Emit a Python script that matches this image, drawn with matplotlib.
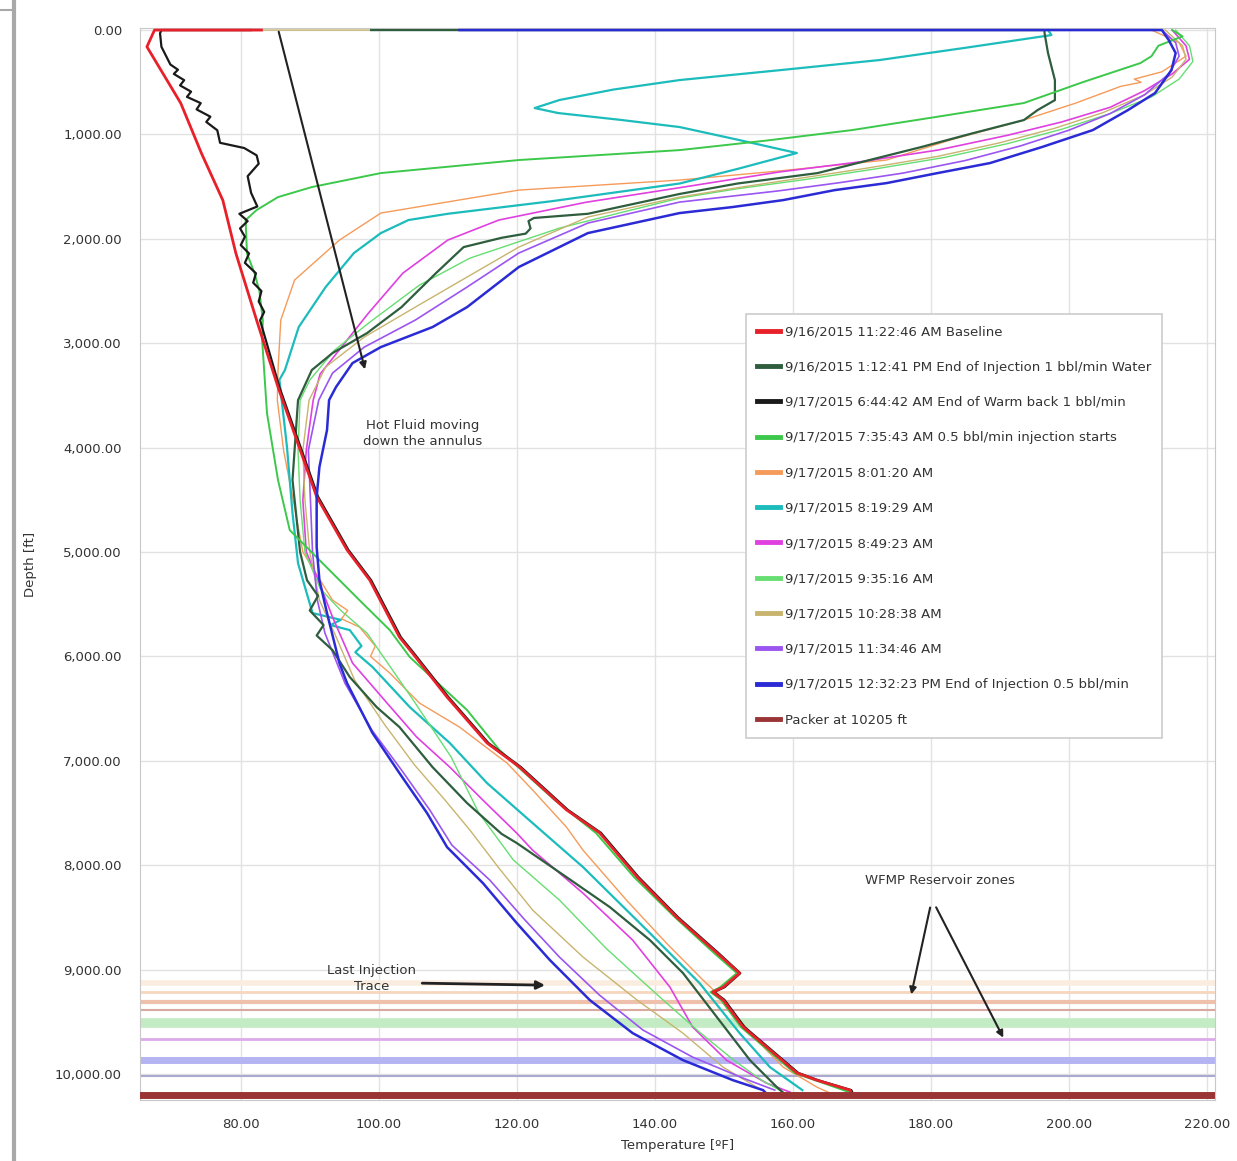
import matplotlib
matplotlib.use("Agg")
import matplotlib.pyplot as plt
from matplotlib.lines import Line2D
from matplotlib.ticker import FuncFormatter, MultipleLocator

plt.rcParams['font.family'] = ['DejaVu Sans']

# ---- data: temperature [F] vs depth [ft] for each trace ----
base_t = [83.0, 67.5, 66.4, 71.3, 74.3, 77.4, 79.3, 82.3, 85.4, 91.0, 95.4, 98.7, 103.0, 104.9, 109.9,
          115.7, 120.4, 127.2, 132.0, 137.4, 143.2, 149.0, 152.3, 149.9, 148.4, 149.9, 152.8, 156.7,
          160.6, 163.5, 168.3, 168.6]
base_d = [0, 0, 160, 700, 1180, 1630, 2140, 2780, 3420, 4470, 4980, 5270, 5815, 5970, 6390,
          6830, 7060, 7470, 7690, 8110, 8500, 8840, 9035, 9170, 9215, 9290, 9550, 9770,
          9990, 10060, 10155, 10200]

inj1_t = [98.9, 196.5, 196.5, 197.0, 198.0, 198.0, 195.5, 193.5, 186.0, 178.6, 163.6, 152.0, 143.6,
          130.3, 122.5, 121.7, 122.0, 121.3, 117.8, 112.3, 108.3, 103.3, 98.3, 93.3, 90.3, 88.3,
          87.5, 88.6, 89.6, 91.2, 90.0, 92.0, 91.0, 93.3, 95.8, 99.7, 103.0, 107.8, 112.8, 117.8,
          120.0, 127.2, 133.5, 139.3, 144.1, 149.0, 153.8, 157.7, 158.8]
inj1_d = [0, 0, 30, 220, 479, 671, 766, 862, 990, 1121, 1370, 1470, 1570,
          1760, 1800, 1830, 1900, 1950, 1990, 2079, 2328, 2654, 2903, 3094, 3257, 3545,
          4311, 5000, 5270, 5420, 5560, 5700, 5800, 5940, 6198, 6486, 6677, 7061, 7405, 7700,
          7788, 8114, 8402, 8718, 9034, 9455, 9868, 10126, 10190]

warm_t = [81.5, 68.5, 68.3, 68.5, 69.8, 70.9, 70.3, 71.8, 71.2, 72.8, 72.2, 74.2, 73.6, 75.6, 75.0,
          76.6, 77.0, 80.5, 82.3, 82.6, 81.0, 81.5, 82.4, 79.8, 81.0, 79.9, 80.6, 80.0, 81.2, 80.6,
          82.2, 81.8, 83.0, 82.6, 83.4, 82.8, 85.6, 91.2, 95.6, 98.9, 103.2, 105.1, 110.1, 115.9,
          120.6, 127.4, 132.2, 137.6, 143.4, 149.2, 152.4, 150.1, 148.6, 150.1, 153.0, 156.9,
          160.8, 163.7, 168.5, 168.8]
warm_d = [0, 0, 30, 160, 330, 380, 420, 480, 530, 590, 640, 700, 760, 830, 880,
          960, 1080, 1130, 1200, 1280, 1400, 1560, 1690, 1760, 1830, 1900, 1980, 2060, 2140, 2230,
          2330, 2420, 2500, 2600, 2700, 2780, 3420, 4470, 4980, 5270, 5815, 5970, 6390, 6830,
          7060, 7470, 7690, 8110, 8500, 8840, 9035, 9170, 9215, 9290, 9550, 9770,
          9990, 10060, 10155, 10200]

t0735_t = [215.0, 216.5, 213.0, 212.0, 210.4, 202.0, 193.5, 181.0, 168.6, 156.0, 143.6, 120.3, 100.3,
           90.3, 85.4, 82.3, 80.7, 80.9, 82.0, 82.7, 83.2, 83.1, 83.8, 85.4, 87.1, 91.4, 97.2, 101.6,
           104.5, 112.8, 117.5, 125.5, 131.5, 137.0, 142.9, 148.6, 151.9, 149.5, 148.1, 149.6, 152.5,
           156.4, 160.3, 163.2, 168.0]
t0735_d = [0, 60, 150, 250, 316, 500, 699, 830, 958, 1060, 1150, 1245, 1370,
           1504, 1600, 1724, 1820, 2140, 2330, 2500, 2780, 2970, 3670, 4311, 4790, 5077, 5461, 5748,
           6007, 6514, 6898, 7377, 7693, 8114, 8497, 8842, 9034, 9168, 9216, 9290, 9551,
           9772, 9992, 10059, 10170]

t0801_t = [212.0, 216.0, 217.0, 213.5, 209.5, 210.5, 207.5, 201.0, 193.5, 183.0, 173.6, 158.0, 143.6,
           120.3, 100.3, 94.3, 87.8, 85.8, 85.4, 85.3, 86.2, 87.6, 89.0, 93.3, 95.5, 94.6, 97.2,
           99.5, 98.8, 101.6, 105.9, 111.7, 116.1, 118.6, 122.3, 127.2, 129.6, 135.9, 141.7, 147.0,
           149.0, 154.8, 158.6, 163.5, 165.4]
t0801_d = [0, 120, 250, 400, 470, 500, 540, 700, 862, 1050, 1245, 1350, 1437,
           1533, 1753, 2012, 2395, 2778, 3257, 3545, 4024, 4503, 5000, 5461, 5560, 5640, 5719,
           5900, 6000, 6160, 6447, 6677, 6898, 7022, 7280, 7635, 7856, 8335, 8747, 9101,
           9226, 9676, 9934, 10126, 10183]

t0819_t = [197.0, 197.5, 185.0, 172.6, 158.0, 143.6, 134.0, 126.2, 122.6, 126.0, 135.0, 143.6, 152.0,
           160.6, 152.0, 143.6, 125.0, 110.0, 104.3, 100.3, 96.4, 92.3, 88.4, 86.4, 85.6, 86.7, 87.5,
           88.3, 90.4, 94.5, 93.0, 95.8, 97.5, 96.6, 99.1, 104.5, 110.3, 115.7, 122.3, 129.6, 139.3,
           146.5, 152.3, 156.7, 161.4]
t0819_d = [0, 48, 170, 287, 385, 479, 570, 670, 747, 795, 860, 929, 1050,
           1178, 1330, 1470, 1640, 1760, 1820, 1945, 2136, 2462, 2845, 3257, 3350, 3995, 4627,
           5107, 5585, 5650, 5700, 5748, 5900, 5960, 6102, 6486, 6830, 7214, 7597, 8018, 8651,
           9130, 9609, 9935, 10155]

t0849_t = [215.0, 217.0, 217.5, 215.0, 211.0, 206.0, 199.0, 191.0, 181.0, 170.0, 158.0, 143.6, 130.0,
           117.4, 110.0, 103.5, 98.4, 94.5, 91.5, 90.5, 89.5, 89.0, 89.5, 91.4, 93.3, 96.2, 101.2,
           105.5, 110.3, 115.1, 120.0, 122.3, 129.6, 136.8, 142.2, 145.5, 150.4, 156.2, 159.6]
t0849_d = [0, 150, 280, 420, 580, 740, 880, 1010, 1150, 1260, 1360, 1510, 1650,
           1820, 2012, 2328, 2720, 3046, 3295, 3545, 4024, 4503, 5000, 5298, 5623, 6064, 6447,
           6773, 7061, 7377, 7693, 7856, 8268, 8718, 9168, 9551, 9868, 10088, 10174]

t0935_t = [215.5, 217.5, 218.0, 216.0, 212.0, 206.0, 199.0, 191.0, 182.0, 172.0, 162.0, 152.0, 143.6,
           135.0, 126.2, 113.2, 105.9, 98.7, 93.6, 90.0, 88.6, 88.3, 88.6, 89.3, 91.5, 94.5, 98.3,
           105.0, 110.5, 114.5, 119.5, 126.2, 133.0, 138.5, 141.2, 146.5, 151.5, 155.5, 158.5]
t0935_d = [0, 150, 300, 470, 640, 800, 950, 1090, 1220, 1330, 1430, 1520, 1610,
           1750, 1897, 2185, 2443, 2798, 3066, 3353, 3545, 4024, 4503, 5000, 5350, 5560, 5777,
           6419, 6965, 7500, 7950, 8335, 8800, 9130, 9290, 9600, 9870, 10060, 10170]

t1028_t = [82.5, 214.0, 216.5, 217.0, 215.0, 211.0, 205.0, 198.0, 190.0, 181.0, 171.0, 161.0, 152.0,
           143.6, 130.3, 120.3, 112.8, 105.3, 97.9, 92.3, 89.9, 89.0, 89.3, 90.0, 91.4, 93.6, 96.5,
           100.9, 105.2, 109.6, 113.2, 117.3, 122.3, 129.6, 137.4, 144.1, 149.9, 154.8, 156.5]
t1028_d = [0, 0, 150, 280, 450, 620, 790, 940, 1080, 1210, 1320, 1420, 1510,
           1600, 1791, 2079, 2366, 2654, 2941, 3228, 3545, 4024, 4503, 5000, 5461, 5780, 6227,
           6658, 7041, 7376, 7663, 8018, 8430, 8880, 9290, 9610, 9935, 10127, 10190]

t1134_t = [213.5, 215.5, 216.0, 214.5, 211.0, 206.0, 200.0, 193.0, 185.0, 176.0, 167.0, 158.0, 150.0,
           143.6, 130.3, 120.3, 112.8, 105.3, 97.9, 93.3, 91.3, 89.8, 90.1, 90.4, 91.1, 92.2, 95.1,
           99.0, 103.3, 107.4, 110.6, 116.1, 121.2, 126.2, 132.0, 138.3, 145.5, 152.8, 157.4]
t1134_d = [0, 120, 250, 420, 620, 800, 960, 1110, 1250, 1370, 1460, 1540, 1600,
           1648, 1849, 2136, 2462, 2778, 3037, 3286, 3545, 4024, 4503, 5000, 5461, 5777, 6256,
           6706, 7089, 7472, 7808, 8143, 8526, 8881, 9245, 9580, 9839, 10040, 10155]

t1232_t = [111.7, 213.5, 214.5, 215.5, 214.9, 212.5, 208.6, 203.5, 196.1, 188.6, 181.0, 173.6, 166.1,
           158.6, 151.2, 143.6, 130.3, 120.3, 112.8, 107.8, 100.3, 96.2, 93.8, 92.8, 92.5, 91.4,
           91.0, 91.0, 91.4, 92.5, 94.3, 95.4, 99.1, 103.0, 107.0, 109.9, 115.1, 120.0, 124.8,
           130.6, 136.8, 144.1, 151.3, 155.7, 156.2]
t1232_d = [0, 0, 96, 220, 383, 604, 766, 958, 1121, 1274, 1370, 1466, 1533,
           1629, 1696, 1753, 1945, 2270, 2654, 2845, 3037, 3190, 3420, 3545, 3832, 4186,
           4474, 4953, 5269, 5585, 6064, 6256, 6735, 7118, 7501, 7827, 8172, 8555, 8909,
           9293, 9609, 9868, 10059, 10155, 10190]

packer_depth = 10205

zone_depths = [9128, 9215, 9310, 9387, 9511, 9665, 9866, 10019]
zone_colors = ['#fbece0', '#f7d6bd', '#efc0ac', '#d9a8a0', '#c4ecc4', '#dcaae8', '#b4b4f2', '#a9a9d2']
zone_widths = [4, 2, 3, 1.5, 7, 2, 5, 1.5]

labels = ['9/16/2015 11:22:46 AM Baseline',
          '9/16/2015 1:12:41 PM End of Injection 1 bbl/min Water',
          '9/17/2015 6:44:42 AM End of Warm back 1 bbl/min',
          '9/17/2015 7:35:43 AM 0.5 bbl/min injection starts',
          '9/17/2015 8:01:20 AM',
          '9/17/2015 8:19:29 AM',
          '9/17/2015 8:49:23 AM',
          '9/17/2015 9:35:16 AM',
          '9/17/2015 10:28:38 AM',
          '9/17/2015 11:34:46 AM',
          '9/17/2015 12:32:23 PM End of Injection 0.5 bbl/min',
          'Packer at 10205 ft']

colors = ['#e8202a', '#2e5e3e', '#1a1a1a', '#3cc84a', '#f59b5a', '#1cbcbc', '#e040e0',
          '#66de72', '#c8b46e', '#9b55f0', '#2b2bd6', '#9b3535']
widths = [2.0, 1.6, 1.6, 1.4, 1.0, 1.6, 1.2, 1.0, 1.0, 1.2, 1.8]

series = [(base_t, base_d), (inj1_t, inj1_d), (warm_t, warm_d), (t0735_t, t0735_d),
          (t0801_t, t0801_d), (t0819_t, t0819_d), (t0849_t, t0849_d), (t0935_t, t0935_d),
          (t1028_t, t1028_d), (t1134_t, t1134_d), (t1232_t, t1232_d)]

fig = plt.figure(figsize=(12.37, 11.61), dpi=100)
ax = fig.add_axes([0.1132, 0.0525, 0.869, 0.9234])

# reservoir zone lines
for d, c, w in zip(zone_depths, zone_colors, zone_widths):
    ax.axhline(d, color=c, lw=w, zorder=1)

# draw order: baseline & warm back on top of the deep bundle
order = [4, 5, 6, 7, 8, 9, 1, 3, 2, 0, 10]
for i in order:
    t, d = series[i]
    ax.plot(t, d, color=colors[i], lw=widths[i], zorder=3 + order.index(i) * 0.1)

ax.axhline(packer_depth, color=colors[11], lw=5, zorder=4)

ax.set_xlim(65.4, 221.2)
ax.set_ylim(10250, -20)
ax.xaxis.set_major_locator(MultipleLocator(20))
ax.yaxis.set_major_locator(MultipleLocator(1000))
fmt = FuncFormatter(lambda v, p: f"{v:,.2f}")
ax.xaxis.set_major_formatter(fmt)
ax.yaxis.set_major_formatter(fmt)
ax.tick_params(length=0, labelsize=9.5, labelcolor='#333333', pad=13)
ax.grid(True, color='#e2e2e2', lw=1)
ax.set_axisbelow(True)
for s in ax.spines.values():
    s.set_color('#c8c8c8')

ax.set_xlabel('Temperature [ºF]', fontsize=9.5, color='#333333')
ax.set_ylabel('Depth [ft]', fontsize=9.5, color='#333333')
ax.xaxis.set_label_coords(0.5, -0.036)
ax.yaxis.set_label_coords(-0.096, 0.5)

# annotations
arr = dict(arrowstyle='-|>', color='#222222', lw=1.5, mutation_scale=10)
ax.annotate('', xy=(98.1, 3276), xytext=(85.4, -10), arrowprops=arr, zorder=6)
ax.text(106.3, 3860, 'Hot Fluid moving\ndown the annulus', ha='center', va='center',
        fontsize=9.5, color='#333333', linespacing=1.3)
ax.annotate('', xy=(124.5, 9150), xytext=(105.9, 9130),
            arrowprops=dict(arrowstyle='-|>', color='#222222', lw=2, mutation_scale=12), zorder=6)
ax.text(99.0, 9090, 'Last Injection\nTrace', ha='center', va='center',
        fontsize=9.5, color='#333333', linespacing=1.3)
ax.text(181.3, 8150, 'WFMP Reservoir zones', ha='center', va='center',
        fontsize=9.5, color='#333333')
ax.annotate('', xy=(177.1, 9264), xytext=(180.0, 8380), arrowprops=arr, zorder=6)
ax.annotate('', xy=(190.7, 9676), xytext=(180.6, 8380), arrowprops=arr, zorder=6)

# legend
handles = [Line2D([], [], color=c, lw=3.5) for c in colors]
leg = ax.legend(handles, labels, loc='upper left', bbox_to_anchor=(0.5637, 0.7332),
                fontsize=9.5, frameon=True, fancybox=False, framealpha=1,
                edgecolor='#cccccc', labelspacing=1.69, handlelength=1.7,
                handletextpad=0.4, borderpad=0.85, borderaxespad=0)
leg.get_frame().set_linewidth(1.2)
for txt in leg.get_texts():
    txt.set_color('#333333')

# screenshot border at the left
fig.add_artist(Line2D([0.011, 0.011], [0, 1], color='#a8a8a8', lw=3))
fig.add_artist(Line2D([0.0, 0.011], [0.991, 0.991], color='#a8a8a8', lw=1.5))

fig.savefig('out.png', dpi=100, facecolor='white')
